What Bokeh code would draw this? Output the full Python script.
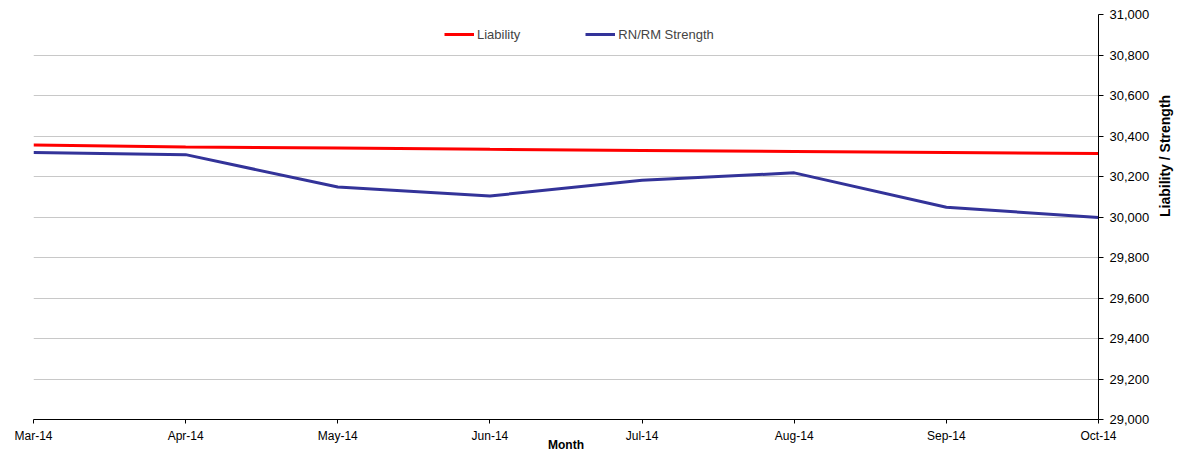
import math
from bokeh.plotting import figure
from bokeh.models import Range1d, Legend, LegendItem, FixedTicker, NumeralTickFormatter
from bokeh.embed import file_html
from bokeh.resources import INLINE

months = ["Mar-14", "Apr-14", "May-14", "Jun-14", "Jul-14", "Aug-14", "Sep-14", "Oct-14"]
liability = [30355, 30346, 30341, 30334, 30329, 30323, 30318, 30314]
strength = [30318, 30308, 30148, 30104, 30181, 30218, 30048, 29998]
y_ticks = list(range(29000, 31001, 200))

FONT = "Liberation Sans"
xs = list(range(len(months)))

p = figure(width=1184, height=454, output_backend="svg", toolbar_location=None,
           x_range=Range1d(0, len(months) - 1), y_range=Range1d(29000, 31000),
           y_axis_location="right", min_border_left=33, min_border_right=79,
           min_border_top=14, min_border_bottom=33)
p.outline_line_color = None
p.background_fill_color = "white"
p.border_fill_color = "white"

p.xgrid.grid_line_color = None
p.ygrid.grid_line_color = "#c8c8c8"
p.ygrid.grid_line_width = 1
p.ygrid.ticker = FixedTicker(ticks=y_ticks)

xa = p.xaxis[0]
xa.ticker = FixedTicker(ticks=xs)
xa.major_label_overrides = {i: m for i, m in enumerate(months)}
xa.minor_tick_line_color = None
xa.major_tick_in = 0
xa.major_tick_out = 4
xa.major_label_standoff = 5
xa.axis_line_color = "black"
xa.major_tick_line_color = "black"
xa.major_label_text_font = FONT
xa.major_label_text_font_size = "12px"
xa.major_label_text_color = "black"
xa.axis_label = "Month"
xa.axis_label_text_font = FONT
xa.axis_label_text_font_style = "bold"
xa.axis_label_text_font_size = "12px"
xa.axis_label_text_color = "black"
xa.axis_label_standoff = -8

ya = p.yaxis[0]
ya.ticker = FixedTicker(ticks=y_ticks)
ya.formatter = NumeralTickFormatter(format="0,0")
ya.minor_tick_line_color = None
ya.major_tick_in = 0
ya.major_tick_out = 5
ya.major_label_standoff = 6
ya.axis_line_color = "black"
ya.major_tick_line_color = "black"
ya.major_label_text_font = FONT
ya.major_label_text_font_size = "13px"
ya.major_label_text_color = "black"
ya.axis_label = "Liability / Strength"
ya.axis_label_orientation = math.pi / 2
ya.axis_label_text_font = FONT
ya.axis_label_text_font_style = "bold"
ya.axis_label_text_font_size = "14px"
ya.axis_label_text_color = "black"
ya.axis_label_standoff = 13

r1 = p.line(xs, liability, line_color="#ff0000", line_width=3)
r2 = p.line(xs, strength, line_color="#333399", line_width=3)

legend = Legend(items=[LegendItem(label="Liability", renderers=[r1]),
                       LegendItem(label="RN/RM Strength", renderers=[r2])],
                orientation="horizontal", location=(411, 375),
                border_line_color=None, background_fill_alpha=0,
                padding=0, margin=0, spacing=65, glyph_width=30, glyph_height=20,
                label_standoff=3, label_text_font=FONT, label_text_font_size="13px",
                label_height=20)
p.add_layout(legend)

open("out.html", "w").write(file_html(p, INLINE))
